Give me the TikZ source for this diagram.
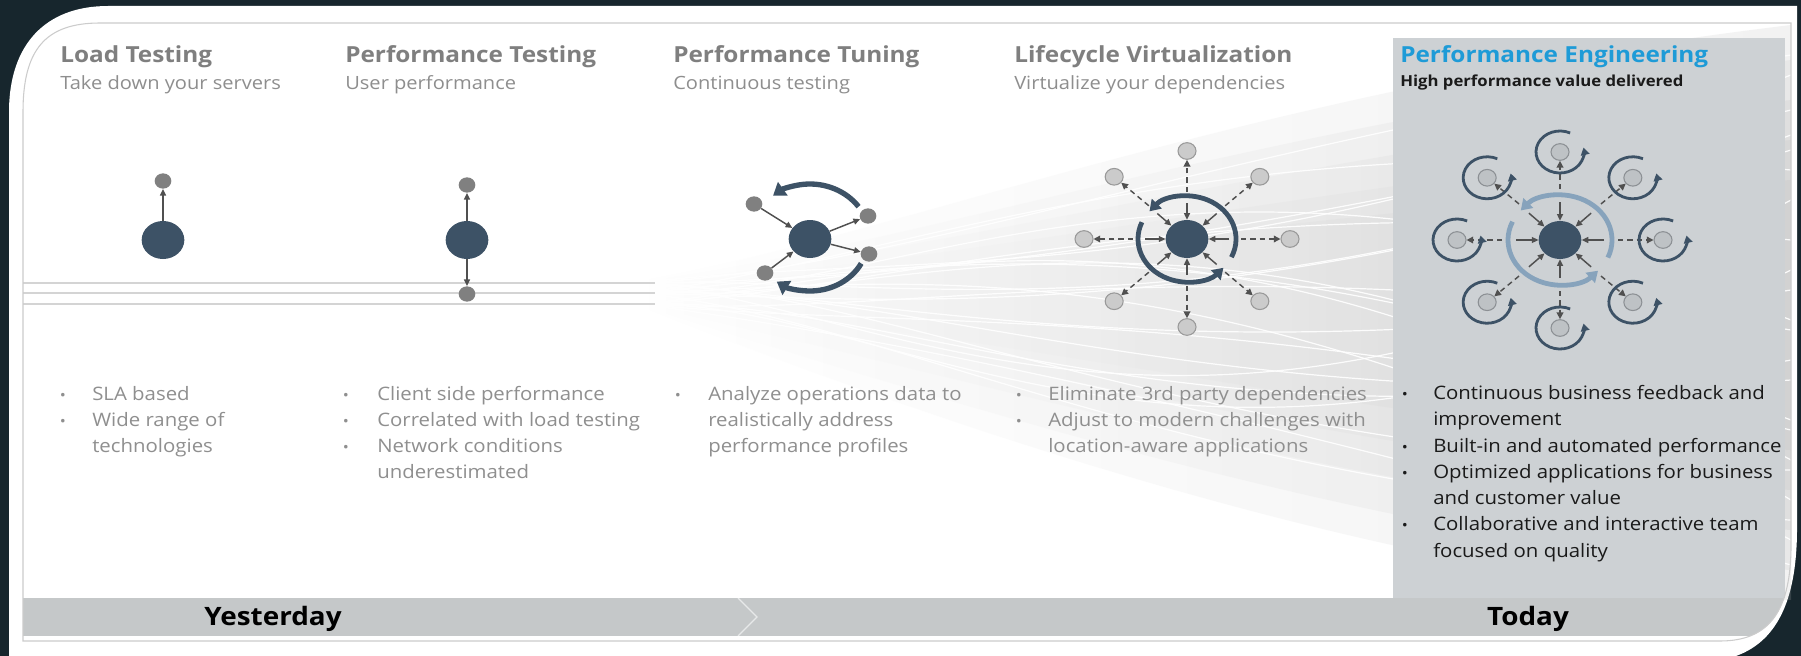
\documentclass[tikz,border=0pt]{standalone}
\usepackage{fontspec}
\usetikzlibrary{arrows.meta,shapes.geometric,calc}
\newfontfamily\hpfont[FakeStretch=1.1]{Open Sans}

\definecolor{bgdark}{HTML}{17262D}
\definecolor{nodeslate}{HTML}{3D5266}
\definecolor{dotgray}{HTML}{808080}
\definecolor{dotlight}{HTML}{CBCBCB}
\definecolor{dotedge}{HTML}{999999}
\definecolor{pedot}{HTML}{BEC2C5}
\definecolor{pedotedge}{HTML}{8C9094}
\definecolor{arrowgray}{HTML}{505050}
\definecolor{ringblue}{HTML}{87A3BC}
\definecolor{headgray}{HTML}{7F7F7F}
\definecolor{subgray}{HTML}{8E8E8E}
\definecolor{bulletgray}{HTML}{8F8F8F}
\definecolor{peboxfill}{HTML}{CDD1D4}
\definecolor{barfill}{HTML}{C5C8C9}
\definecolor{frameline}{HTML}{CCCCCC}
\definecolor{peblue}{HTML}{1E9BD7}
\definecolor{darktext}{HTML}{1A1A1A}

\begin{document}
\begin{tikzpicture}[x=0.75pt,y=-0.75pt,
  bignode/.style={ellipse, fill=nodeslate, minimum width=32pt, minimum height=28.5pt, inner sep=0pt},
  dotnode/.style={ellipse, fill=dotgray, minimum width=12.5pt, minimum height=11.5pt, inner sep=0pt},
  outnode/.style={ellipse, fill=dotlight, draw=dotedge, line width=0.8pt, minimum width=13.5pt, minimum height=12.5pt, inner sep=0pt},
  penode/.style={ellipse, fill=pedot, draw=pedotedge, line width=0.8pt, minimum width=13.5pt, minimum height=12.5pt, inner sep=0pt},
  conn/.style={draw=arrowgray, line width=1.1pt, -{Triangle[length=5pt,width=4.5pt]}},
  spoke/.style={draw=arrowgray, line width=1.1pt, dash pattern=on 4pt off 3pt, -{Triangle[length=5pt,width=5pt]}},
  cyclearc/.style={draw=nodeslate, line width=4pt, -{Triangle[length=9pt,width=12pt]}},
  ringarc/.style={draw=nodeslate, line width=3.6pt, -{Triangle[length=8pt,width=10pt]}},
  bluearc/.style={draw=ringblue, line width=3.6pt, -{Triangle[length=8pt,width=10pt]}},
  selfarc/.style={draw=nodeslate, line width=2.1pt, -{Triangle[length=5.5pt,width=6.5pt]}},
  swoosh/.style={draw=white, line width=0.9pt, opacity=0.9},
  washband/.style={left color=white, right color=black!26, fill opacity=0.19},
  headtext/.style={anchor=base west, inner sep=0pt, text=headgray, font=\hpfont\bfseries\fontsize{16.6}{20}\selectfont},
  subtext/.style={anchor=base west, inner sep=0pt, text=subgray, font=\hpfont\fontsize{13.7}{17}\selectfont},
  btext/.style={anchor=base west, inner sep=0pt, text=bulletgray, font=\hpfont\fontsize{13.9}{17}\selectfont},
  bdot/.style={anchor=base, inner sep=0pt, text=bulletgray, font=\hpfont\fontsize{11}{14}\selectfont},
  ptext/.style={anchor=base west, inner sep=0pt, text=darktext, font=\hpfont\fontsize{13.9}{17}\selectfont},
  pdot/.style={anchor=base, inner sep=0pt, text=darktext, font=\hpfont\fontsize{11}{14}\selectfont},
  eratext/.style={anchor=base, inner sep=0pt, text=black, font=\hpfont\bfseries\fontsize{19}{23}\selectfont}
]
\useasboundingbox (0,0) rectangle (1801,656);

% dark surround and the white card
\fill[bgdark] (0,0) rectangle (1801,656);
\fill[white] (9,656) -- (9,112) .. controls (9,45) and (45,6) .. (108,6) -- (1797,6)
  -- (1797,528) .. controls (1797,595) and (1780,640) .. (1736,656) -- cycle;

% soft flowing band of lines behind the later stages
\begin{scope}
  \clip (23,23) rectangle (1791,600);
  \shade[washband] (640,281) .. controls (900,235) and (1250,90) .. (1791,25)
    -- (1791,600) .. controls (1450,590) and (1000,450) .. (640,306) -- cycle;
  \shade[washband] (640,282) .. controls (920,245) and (1270,120) .. (1791,60)
    -- (1791,570) .. controls (1430,550) and (1000,420) .. (640,305) -- cycle;
  \shade[washband] (640,283) .. controls (950,255) and (1300,150) .. (1791,100)
    -- (1791,530) .. controls (1400,505) and (1000,385) .. (640,304) -- cycle;
  \shade[washband] (640,284) .. controls (980,262) and (1300,185) .. (1791,140)
    -- (1791,490) .. controls (1400,465) and (1000,355) .. (640,303) -- cycle;
  \shade[washband] (640,285) .. controls (1000,270) and (1300,210) .. (1791,180)
    -- (1791,450) .. controls (1400,430) and (1000,330) .. (640,302) -- cycle;
  \foreach \ya/\yb/\yc/\yd in {283/270/150/55, 283/280/250/110, 293/260/120/170,
      293/300/330/150, 304/290/180/240, 283/300/380/290, 304/320/240/330,
      293/280/420/380, 304/330/300/430, 283/290/460/470, 293/320/500/520,
      304/340/400/565, 293/270/200/420, 304/280/150/500, 283/310/520/200,
      293/300/90/320, 283/250/300/75, 304/300/560/270, 293/310/140/460,
      283/275/350/135, 304/295/470/360, 293/285/230/540}
    \draw[swoosh] (640,\ya) .. controls (900,\yb) and (1200,\yc) .. (1791,\yd);
\end{scope}

% three straight lines leading into the band
\foreach \yy in {283,293,304}
  \draw[frameline!85, line width=1.2pt] (23,\yy) -- (655,\yy);

% highlighted column and the timeline bar
\fill[peboxfill] (1393,38) rectangle (1785,598);
\begin{scope}
  \clip (23,23) -- (1791,23) -- (1791,545) .. controls (1791,610) and (1770,641) .. (1720,641) -- (23,641) -- cycle;
  \fill[barfill] (23,598) rectangle (1791,636);
\end{scope}
\draw[white, opacity=0.6, line width=1pt] (738,598) -- (757,617) -- (738,636);

% thin inner frame
\draw[frameline, line width=0.8pt] (23,641) -- (23,112) .. controls (23,50) and (45,23) .. (100,23)
  -- (1791,23) -- (1791,545) .. controls (1791,610) and (1770,641) .. (1720,641) -- cycle;

% ---- headings ----
\node[headtext] (h1) at (60,63) {Load Testing};
\node[subtext]  (s1) at (60,90) {Take down your servers};
\node[headtext] (h2) at (345,63) {Performance Testing};
\node[subtext]  (s2) at (345,90) {User performance};
\node[headtext] (h3) at (673,63) {Performance Tuning};
\node[subtext]  (s3) at (673,90) {Continuous testing};
\node[headtext] (h4) at (1014,63) {Lifecycle Virtualization};
\node[subtext]  (s4) at (1014,90) {Virtualize your dependencies};
\node[headtext, text=peblue] (h5) at (1400,63) {Performance Engineering};
\node[anchor=base west, inner sep=0pt, text=darktext, font=\hpfont\bfseries\fontsize{11.4}{14}\selectfont] (s5) at (1400,87) {High performance value delivered};

% ---- stage 1: load testing ----
\node[bignode] (lt-c) at (163,240) {};
\node[dotnode] (lt-a) at (163,181) {};
\draw[conn] (lt-c) -- (lt-a);

% ---- stage 2: performance testing ----
\node[bignode] (pt-c) at (467,240) {};
\node[dotnode] (pt-a) at (467,185) {};
\node[dotnode] (pt-b) at (467,294) {};
\draw[conn] (pt-c) -- (pt-a);
\draw[conn] (pt-c) -- (pt-b);

% ---- stage 3: performance tuning ----
\node[bignode] (tu-c) at (810,239) {};
\node[dotnode] (tu-ul) at (754,204) {};
\node[dotnode] (tu-ll) at (765,273) {};
\node[dotnode] (tu-ur) at (868,216) {};
\node[dotnode] (tu-lr) at (869,254) {};
\draw[conn] (tu-ul) -- (tu-c);
\draw[conn] (tu-ll) -- (tu-c);
\draw[conn] (tu-c) -- (tu-ur);
\draw[conn] (tu-c) -- (tu-lr);
\draw[cyclearc] (tu-c) ++(-36:60 and 55) arc[start angle=-36, end angle=-128, x radius=60, y radius=55];
\draw[cyclearc] (tu-c) ++(28:58 and 52) arc[start angle=28, end angle=125, x radius=58, y radius=52];

% ---- stage 4: lifecycle virtualization ----
\node[bignode] (lv-c) at (1187,239) {};
\foreach \k in {0,...,7} {
  \pgfmathsetmacro\ang{-45*\k}
  \node[outnode] (lv-o\k) at ($(lv-c)+(\ang:103 and 88)$) {};
  \coordinate (lv-r\k) at ($(lv-c)+(\ang:54 and 47)$);
  \coordinate (lv-i\k) at ($(lv-c)+(\ang:42 and 36)$);
  \draw[spoke] (lv-r\k) -- (lv-o\k);
  \draw[conn] (lv-i\k) -- (lv-c);
}
\draw[ringarc] (lv-c) ++(25:49 and 43) arc[start angle=25, end angle=-140, x radius=49, y radius=43];
\draw[ringarc] (lv-c) ++(-157:49 and 43) arc[start angle=-157, end angle=-318, x radius=49, y radius=43];

% ---- stage 5: performance engineering ----
\node[bignode] (pe-c) at (1560,240) {};
\foreach \k in {0,...,7} {
  \pgfmathsetmacro\ang{-45*\k}
  \node[penode] (pe-o\k) at ($(pe-c)+(\ang:103 and 88)$) {};
  \coordinate (pe-r\k) at ($(pe-c)+(\ang:58 and 51)$);
  \coordinate (pe-i\k) at ($(pe-c)+(\ang:44 and 38)$);
  \draw[spoke] (pe-r\k) -- (pe-o\k);
  \draw[conn] (pe-i\k) -- (pe-c);
  \draw[selfarc] (pe-o\k) ++(-65:24 and 21) arc[start angle=-65, end angle=-372, x radius=24, y radius=21];
}
\draw[bluearc] (pe-c) ++(23:52 and 45) arc[start angle=23, end angle=-139, x radius=52, y radius=45];
\draw[bluearc] (pe-c) ++(-156:52 and 45) arc[start angle=-156, end angle=-317, x radius=52, y radius=45];

% ---- bullet lists ----
\node[bdot]  (b1a) at (63,400) {•};
\node[btext] (t1a) at (92,400) {SLA based};
\node[bdot]  (b1b) at (63,426) {•};
\node[btext] (t1b) at (92,426) {Wide range of};
\node[btext] (t1c) at (92,452) {technologies};

\node[bdot]  (b2a) at (346,400) {•};
\node[btext] (t2a) at (377,400) {Client side performance};
\node[bdot]  (b2b) at (346,426) {•};
\node[btext] (t2b) at (377,426) {Correlated with load testing};
\node[bdot]  (b2c) at (346,452) {•};
\node[btext] (t2c) at (377,452) {Network conditions};
\node[btext] (t2d) at (377,478) {underestimated};

\node[bdot]  (b3a) at (678,400) {•};
\node[btext] (t3a) at (708,400) {Analyze operations data to};
\node[btext] (t3b) at (708,426) {realistically address};
\node[btext] (t3c) at (708,452) {performance profiles};

\node[bdot]  (b4a) at (1019,400) {•};
\node[btext] (t4a) at (1048,400) {Eliminate 3rd party dependencies};
\node[bdot]  (b4b) at (1019,426) {•};
\node[btext] (t4b) at (1048,426) {Adjust to modern challenges with};
\node[btext] (t4c) at (1048,452) {location-aware applications};

\node[pdot]  (b5a) at (1405,399) {•};
\node[ptext] (t5a) at (1433,399) {Continuous business feedback and};
\node[ptext] (t5b) at (1433,425) {improvement};
\node[pdot]  (b5c) at (1405,452) {•};
\node[ptext] (t5c) at (1433,452) {Built-in and automated performance};
\node[pdot]  (b5d) at (1405,478) {•};
\node[ptext] (t5d) at (1433,478) {Optimized applications for business};
\node[ptext] (t5e) at (1433,504) {and customer value};
\node[pdot]  (b5f) at (1405,530) {•};
\node[ptext] (t5f) at (1433,530) {Collaborative and interactive team};
\node[ptext] (t5g) at (1433,557) {focused on quality};

% ---- timeline labels ----
\node[eratext] (yest) at (273,625) {Yesterday};
\node[eratext] (today) at (1528,625) {Today};
\end{tikzpicture}
\end{document}
